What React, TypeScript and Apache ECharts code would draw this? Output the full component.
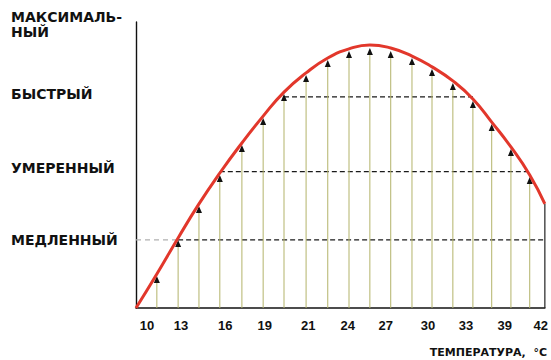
import React, { useEffect, useRef } from "react";
import * as echarts from "echarts";

// Horizontal position of each measurement line (0 = axis, 100 = right edge)
const arrowX = [5.1, 10.3, 15.4, 20.5, 25.9, 31.1, 36.2, 41.6, 46.9, 52.1, 57.2, 62.3, 67.5, 72.4, 77.5, 82.4, 87.0, 91.7, 96.3];
// Rate reached at each measurement (arrow tips)
const arrowRate = [11.2, 23.8, 35.7, 46.5, 57.0, 66.4, 74.8, 81.5, 86.7, 89.9, 90.9, 89.9, 87.4, 83.6, 78.7, 72.4, 64.3, 55.6, 45.8];
// Red rate curve
const curveX = [0, 5.1, 10.3, 15.4, 20.5, 25.9, 31.1, 36.2, 41.6, 46.9, 52.1, 57.2, 62.3, 67.5, 72.4, 77.5, 82.4, 87.0, 91.7, 96.3, 100];
const curveRate = [0, 11.9, 24.5, 36.4, 47.2, 57.7, 67.1, 75.5, 82.2, 87.4, 90.6, 92.0, 90.9, 88.1, 84.3, 79.4, 73.1, 65.0, 56.3, 46.5, 36.4];
// Temperature tick labels and where they sit along the axis
const tempLabels = ["10", "13", "16", "19", "21", "24", "27", "30", "33", "39", "42"];
const tempSlots = [2.7, 11.0, 21.8, 31.5, 42.1, 51.8, 61.1, 71.4, 80.7, 90.2, 99.0];
// Rate levels (dashed lines) and their extents
const levelNames = ["МЕДЛЕННЫЙ", "УМЕРЕННЫЙ", "БЫСТРЫЙ", "МАКСИМАЛЬ-\nНЫЙ"];
const levelLabelAt = [23.9, 49.0, 74.8, 99.3];
const levelRate = [23.8, 47.7, 73.8];
const levelStart = [10.3, 20.5, 36.2];
const levelEnd = [100, 96.3, 82.4];
const endRate = 36.4;

const nearestIndex = (arr: number[], v: number) => {
  let best = 0;
  for (let i = 1; i < arr.length; i++) if (Math.abs(arr[i] - v) < Math.abs(arr[best] - v)) best = i;
  return best;
};

export default function App() {
  const ref = useRef<HTMLDivElement>(null);
  useEffect(() => {
    if (!ref.current) return;
    const chart = echarts.init(ref.current, null, { renderer: "svg" });
    const levelSeries: any[] = levelRate.map((v, i) => ({
      type: "line",
      data: [[levelStart[i], v], [levelEnd[i], v]],
      symbol: "none",
      silent: true,
      z: 3,
      lineStyle: { color: "#1a1a1a", width: 1.2, type: [5, 3] },
    }));
    const faintSeries: any = {
      type: "line",
      data: [[0, levelRate[0]], [levelStart[0], levelRate[0]]],
      symbol: "none",
      silent: true,
      z: 2,
      lineStyle: { color: "#b0b0b0", width: 1.2, type: [5, 4] },
    };
    chart.setOption({
      animation: false,
      backgroundColor: "#ffffff",
      grid: { left: 136, right: 6, top: 22, bottom: 52 },
      xAxis: {
        type: "value",
        min: 0,
        max: 100,
        splitLine: { show: false },
        axisTick: { show: false },
        axisLine: { show: true, lineStyle: { color: "#111", width: 1.6 } },
        axisLabel: {
          customValues: tempSlots,
          margin: 11,
          color: "#111",
          fontFamily: "Liberation Sans",
          fontWeight: "bold",
          fontSize: 13,
          formatter: (v: number) => tempLabels[nearestIndex(tempSlots, v)],
        },
      },
      yAxis: {
        type: "value",
        min: 0,
        max: 100,
        splitLine: { show: false },
        axisTick: { show: false },
        axisLine: { show: true, lineStyle: { color: "#111", width: 1.4 } },
        axisLabel: {
          customValues: levelLabelAt,
          margin: 125,
          align: "left",
          color: "#111",
          fontFamily: "DejaVu Sans",
          fontWeight: "bold",
          fontSize: 14,
          lineHeight: 15,
          formatter: (v: number) => levelNames[nearestIndex(levelLabelAt, v)],
        },
      },
      graphic: [
        {
          type: "text",
          right: 4,
          top: 347,
          style: {
            text: "ТЕМПЕРАТУРА,  °C",
            fill: "#111",
            font: "bold 11px 'DejaVu Sans'",
          },
        },
      ],
      series: [
        faintSeries,
        ...levelSeries,
        {
          type: "custom",
          z: 4,
          silent: true,
          data: arrowX.map((x, i) => [x, arrowRate[i]]),
          encode: { x: 0, y: 1 },
          renderItem: (params: any, api: any) => {
            const x = api.value(0);
            const v = api.value(1);
            const base = api.coord([x, 0]);
            const tip = api.coord([x, v]);
            return {
              type: "group",
              children: [
                {
                  type: "line",
                  shape: { x1: base[0], y1: base[1], x2: tip[0], y2: tip[1] + 5 },
                  style: { stroke: "#b3b36a", lineWidth: 1 },
                },
                {
                  type: "polygon",
                  shape: { points: [[tip[0], tip[1]], [tip[0] - 3, tip[1] + 7], [tip[0] + 3, tip[1] + 7]] },
                  style: { fill: "#111" },
                },
              ],
            };
          },
        },
        {
          type: "line",
          data: [[100, 0], [100, endRate]],
          symbol: "none",
          silent: true,
          clip: false,
          z: 3,
          lineStyle: { color: "#222", width: 1.2 },
        },
        {
          type: "line",
          data: curveX.map((x, i) => [x, curveRate[i]]),
          smooth: true,
          symbol: "none",
          silent: true,
          clip: false,
          z: 5,
          lineStyle: { color: "#e2372b", width: 3 },
        },
      ],
    });
    return () => chart.dispose();
  }, []);
  return <div ref={ref} style={{ position: "fixed", left: 0, top: 0, width: 551, height: 360 }} />;
}
